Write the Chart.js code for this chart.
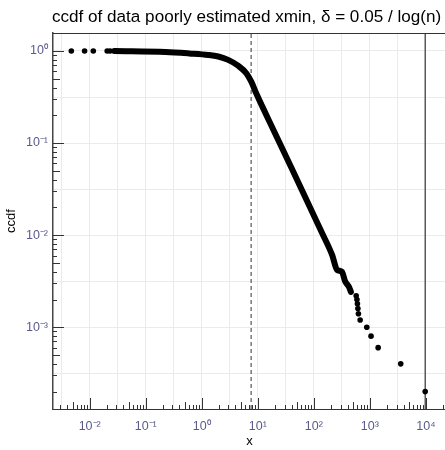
<!DOCTYPE html>
<html>
<head>
<meta charset="utf-8">
<script src="https://cdn.jsdelivr.net/npm/chart.js@4/dist/chart.umd.min.js"></script>
<style>
  html, body { margin: 0; padding: 0; background: #fff; overflow: hidden; }
</style>
</head>
<body>
<canvas id="ccdf" width="450" height="450"></canvas>
<script>
// dense part of the ccdf
const curveX = [0.0275, 0.226, 0.6, 1.31, 1.97, 2.96, 4.45, 6.24, 7.65, 9.37, 19.8, 141, 212, 260, 318, 360, 424, 459];
const curveY = [1.0, 0.975, 0.94, 0.905, 0.87, 0.80, 0.692, 0.573, 0.464, 0.347, 0.132, 0.0105, 0.0061, 0.0042, 0.0040, 0.00318, 0.00274, 0.00242];

// isolated points
const dotX = [0.0047, 0.0081, 0.0116, 0.0205, 0.0231, 570, 588, 600, 612, 625, 671, 881, 1050, 1406, 3557, 9720];
const dotY = [1, 1, 1, 1, 1, 0.0022, 0.0020, 0.0018, 0.0016, 0.0014, 0.0012, 0.0010, 0.0008, 0.0006, 0.0004, 0.0002];

const xminEst = 7.6;
const xMaxData = 9720;

const sup = { '-': '⁻', '0': '⁰', '1': '¹', '2': '²', '3': '³', '4': '⁴' };

const xRange = [Math.pow(10, -2.655), Math.pow(10, 4.359)];
const yRange = [Math.pow(10, -3.888), Math.pow(10, 0.195)];

function pow10Label(v) {
  const e = Math.round(Math.log10(v));
  if (Math.abs(Math.log10(v) - e) > 1e-6) return '';
  return '10' + String(e).split('').map(c => sup[c]).join('');
}

function halfDecades(lo, hi) {
  const out = [];
  for (let e = Math.ceil(Math.log10(lo) * 2) / 2; e <= Math.log10(hi); e += 0.5) {
    out.push({ value: Math.pow(10, e) });
  }
  return out;
}

const pts = (xs, ys) => xs.map((x, i) => ({ x: x, y: ys[i] }));

const logTicks = {
  id: 'logTicks',
  afterDatasetsDraw(chart) {
    const { ctx, chartArea: a, scales: { x, y } } = chart;
    ctx.save();
    ctx.strokeStyle = '#333';
    ctx.lineWidth = 1;
    for (let k = -4; k <= 4; k++) {
      for (let m = 1; m <= 9; m++) {
        const v = m * Math.pow(10, k);
        const len = m === 1 ? 11 : (m === 5 ? 7 : 4);
        if (v >= xRange[0] && v <= xRange[1]) {
          const px = Math.round(x.getPixelForValue(v)) + 0.5;
          ctx.beginPath();
          ctx.moveTo(px, a.bottom);
          ctx.lineTo(px, a.bottom - len);
          ctx.stroke();
        }
        if (v >= yRange[0] && v <= yRange[1]) {
          const py = Math.round(y.getPixelForValue(v)) + 0.5;
          ctx.beginPath();
          ctx.moveTo(a.left, py);
          ctx.lineTo(a.left + len, py);
          ctx.stroke();
        }
      }
    }
    // panel top border
    ctx.beginPath();
    ctx.moveTo(a.left, a.top + 0.5);
    ctx.lineTo(a.right, a.top + 0.5);
    ctx.stroke();
    // title
    ctx.fillStyle = '#000';
    ctx.font = '17.1px "Liberation Sans", Arial, sans-serif';
    ctx.textBaseline = 'alphabetic';
    ctx.textAlign = 'left';
    ctx.fillText('ccdf of data poorly estimated xmin, δ = 0.05 / log(n)', 52, 22);
    ctx.restore();
  }
};

new Chart(document.getElementById('ccdf'), {
  type: 'scatter',
  data: {
    datasets: [
      {
        type: 'line',
        data: pts(curveX, curveY),
        borderColor: '#000',
        borderWidth: 6,
        borderCapStyle: 'round',
        borderJoinStyle: 'round',
        pointRadius: 0,
        cubicInterpolationMode: 'monotone',
        fill: false
      },
      {
        data: pts(dotX, dotY),
        backgroundColor: '#000',
        borderColor: '#000',
        pointRadius: 2.8,
        borderWidth: 0
      },
      {
        type: 'line',
        data: [{ x: xminEst, y: yRange[0] }, { x: xminEst, y: yRange[1] }],
        borderColor: '#333',
        borderWidth: 1,
        borderDash: [4, 3],
        pointRadius: 0
      },
      {
        type: 'line',
        data: [{ x: xMaxData, y: yRange[0] }, { x: xMaxData, y: yRange[1] }],
        borderColor: '#333',
        borderWidth: 1.2,
        pointRadius: 0
      }
    ]
  },
  options: {
    responsive: false,
    animation: false,
    layout: { padding: { top: 33, right: 0, left: 0, bottom: 0 } },
    plugins: { legend: { display: false }, tooltip: { enabled: false }, title: { display: false } },
    scales: {
      x: {
        type: 'logarithmic',
        min: xRange[0],
        max: xRange[1],
        afterBuildTicks: s => { s.ticks = halfDecades(xRange[0], xRange[1]); },
        afterFit: s => { s.height = 41; },
        grid: { color: '#ebebeb', lineWidth: 1, drawTicks: false },
        border: { display: true, color: '#333', width: 1 },
        ticks: {
          autoSkip: false, maxRotation: 0, padding: 10,
          color: '#5a5a8c',
          font: { family: '"Liberation Sans", Arial, sans-serif', size: 12.5 },
          callback: v => pow10Label(v)
        },
        title: {
          display: true, text: 'x', color: '#000',
          font: { family: '"Liberation Sans", Arial, sans-serif', size: 13 },
          padding: { top: 0, bottom: 1 }
        }
      },
      y: {
        type: 'logarithmic',
        min: yRange[0],
        max: yRange[1],
        afterBuildTicks: s => { s.ticks = halfDecades(yRange[0], yRange[1]); },
        afterFit: s => { s.width = 53; },
        grid: { color: '#ebebeb', lineWidth: 1, drawTicks: false },
        border: { display: true, color: '#444', width: 1.5 },
        ticks: {
          autoSkip: false, padding: 5,
          color: '#5a5a8c',
          font: { family: '"Liberation Sans", Arial, sans-serif', size: 12.5 },
          callback: v => pow10Label(v)
        },
        title: {
          display: true, text: 'ccdf', color: '#000',
          font: { family: '"Liberation Sans", Arial, sans-serif', size: 13 },
          padding: { top: 4, bottom: 0 }
        }
      }
    }
  },
  plugins: [logTicks]
});
</script>
</body>
</html>
